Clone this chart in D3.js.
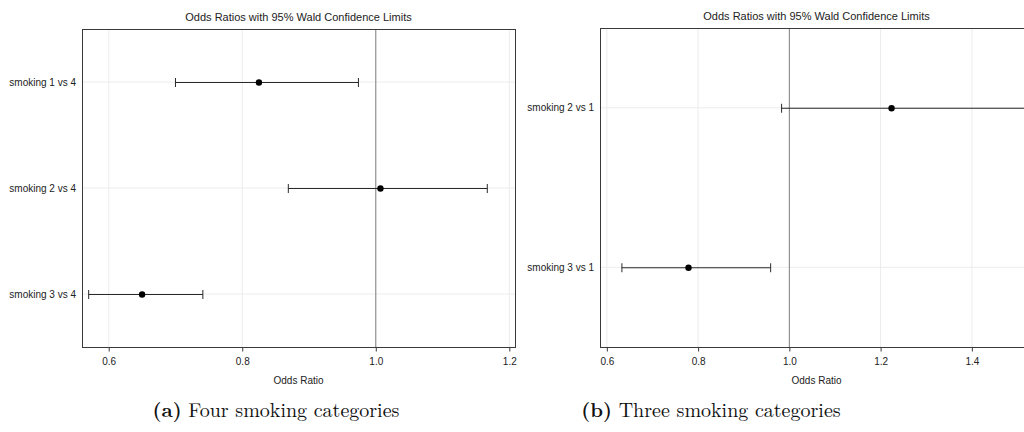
<!DOCTYPE html>
<html lang="en">
<head>
    <meta charset="UTF-8">
    <title>Odds Ratios with 95% Wald Confidence Limits</title>
    <script src="https://d3js.org/d3.v7.min.js"></script>
    <style>
        body {
            margin: 0;
            background-color: white;
        }
        .panel-title, .tick-label, .row-label, .axis-title {
            font-family: 'Liberation Sans', Arial, sans-serif;
            fill: #222;
        }
        .caption {
            font-family: 'Latin Modern Roman', 'DejaVu Serif', serif;
            fill: #111;
        }
    </style>
</head>
<body>
    <div id="chart"></div>

    <script>
        // Panel (a): four smoking categories
        const labelsA = ["smoking 1 vs 4", "smoking 2 vs 4", "smoking 3 vs 4"];
        const estA = [0.825, 1.007, 0.650];
        const lowerA = [0.700, 0.869, 0.570];
        const upperA = [0.974, 1.167, 0.741];
        const ticksA = [0.6, 0.8, 1.0, 1.2];

        // Panel (b): three smoking categories
        const labelsB = ["smoking 2 vs 1", "smoking 3 vs 1"];
        const estB = [1.224, 0.779];
        const lowerB = [0.983, 0.633];
        const upperB = [1.52, 0.959];
        const ticksB = [0.6, 0.8, 1.0, 1.2, 1.4];

        const title = "Odds Ratios with 95% Wald Confidence Limits";

        const width = 1024;
        const height = 432;

        const svg = d3.select("#chart")
            .append("svg")
            .attr("width", width)
            .attr("height", height);

        // draws one forest plot panel
        function drawPanel(opts) {
            const g = svg.append("g");
            const { left, right, top, bottom } = opts;

            const x = d3.scaleLinear()
                .domain(opts.domain)
                .range([left, right]);

            const y = d3.scalePoint()
                .domain(opts.labels)
                .range([top, bottom])
                .padding(0.5);

            // gridlines
            g.selectAll(".vgrid")
                .data(opts.ticks)
                .enter()
                .append("line")
                .attr("x1", d => x(d)).attr("x2", d => x(d))
                .attr("y1", top).attr("y2", bottom)
                .attr("stroke", "#ececec");

            g.selectAll(".hgrid")
                .data(opts.labels)
                .enter()
                .append("line")
                .attr("x1", left).attr("x2", right)
                .attr("y1", d => y(d)).attr("y2", d => y(d))
                .attr("stroke", "#ececec");

            // reference line at 1
            g.append("line")
                .attr("x1", x(1)).attr("x2", x(1))
                .attr("y1", top).attr("y2", bottom)
                .attr("stroke", "#808080");

            // frame
            g.append("rect")
                .attr("x", left + 0.5).attr("y", top + 0.5)
                .attr("width", right - left).attr("height", bottom - top)
                .attr("fill", "none")
                .attr("stroke", "#3a3a3a");

            // x axis ticks and labels
            const axis = g.append("g")
                .attr("transform", `translate(0, ${bottom + 0.5})`)
                .call(d3.axisBottom(x).tickValues(opts.ticks).tickSize(4).tickFormat(d3.format(".1f")));
            axis.select(".domain").remove();
            axis.selectAll(".tick line").attr("stroke", "#3a3a3a");
            axis.selectAll(".tick text")
                .attr("class", "tick-label")
                .attr("dy", null)
                .attr("y", 17)
                .style("font-size", "10px")
                .attr("font-family", null);

            g.append("text")
                .attr("class", "axis-title")
                .attr("x", (left + right) / 2)
                .attr("y", bottom + 37)
                .attr("text-anchor", "middle")
                .style("font-size", "10px")
                .text("Odds Ratio");

            g.append("text")
                .attr("class", "panel-title")
                .attr("x", (left + right) / 2)
                .attr("y", top - 8)
                .attr("text-anchor", "middle")
                .style("font-size", "11px")
                .text(title);

            // row labels
            g.selectAll(".row-label")
                .data(opts.labels)
                .enter()
                .append("text")
                .attr("class", "row-label")
                .attr("x", left - 6)
                .attr("y", d => y(d) + 3.5)
                .attr("text-anchor", "end")
                .style("font-size", "10px")
                .text(d => d);

            // confidence intervals
            const rows = opts.labels.map((lab, i) => ({
                lab, est: opts.est[i], lo: opts.lower[i], hi: opts.upper[i]
            }));

            const ci = g.selectAll(".ci")
                .data(rows)
                .enter()
                .append("g");

            ci.append("line")
                .attr("x1", d => x(d.lo)).attr("x2", d => x(d.hi))
                .attr("y1", d => y(d.lab) + 0.5).attr("y2", d => y(d.lab) + 0.5)
                .attr("stroke", "#2a2a2a");

            ci.append("line")
                .attr("x1", d => x(d.lo)).attr("x2", d => x(d.lo))
                .attr("y1", d => y(d.lab) - 4).attr("y2", d => y(d.lab) + 5)
                .attr("stroke", "#2a2a2a");

            ci.append("line")
                .attr("x1", d => x(d.hi)).attr("x2", d => x(d.hi))
                .attr("y1", d => y(d.lab) - 4).attr("y2", d => y(d.lab) + 5)
                .attr("stroke", "#2a2a2a");

            ci.append("circle")
                .attr("cx", d => x(d.est))
                .attr("cy", d => y(d.lab) + 0.5)
                .attr("r", 3.2)
                .attr("fill", "black");

            // caption
            const cap = g.append("text")
                .attr("class", "caption")
                .attr("x", opts.captionX)
                .attr("y", 417)
                .attr("text-anchor", "middle")
                .style("font-size", "20px");
            cap.append("tspan").style("font-weight", "bold").text(opts.captionTag);
            cap.append("tspan").text(" " + opts.caption);
        }

        drawPanel({
            labels: labelsA, est: estA, lower: lowerA, upper: upperA, ticks: ticksA,
            domain: [0.560, 1.2085],
            left: 82, right: 515, top: 29, bottom: 347,
            captionX: 276, captionTag: "(a)", caption: "Four smoking categories"
        });

        drawPanel({
            labels: labelsB, est: estB, lower: lowerB, upper: upperB, ticks: ticksB,
            domain: [0.585, 1.534],
            left: 600, right: 1033, top: 28, bottom: 347,
            captionX: 711, captionTag: "(b)", caption: "Three smoking categories"
        });
    </script>
</body>
</html>
